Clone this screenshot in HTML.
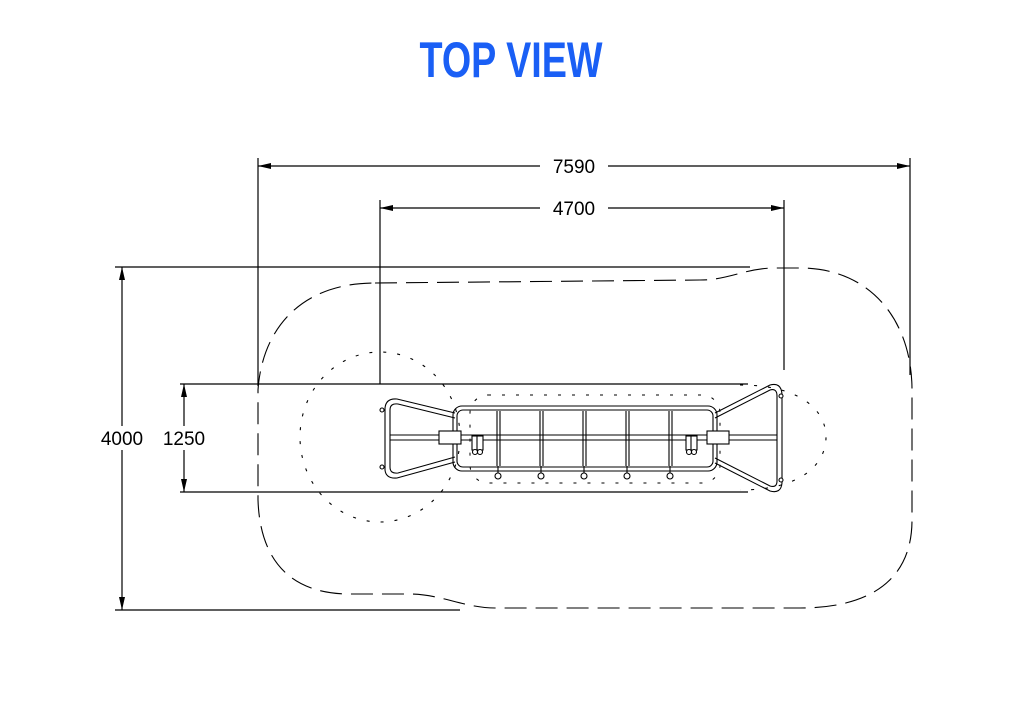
<!DOCTYPE html>
<html><head><meta charset="utf-8"><style>
html,body{margin:0;padding:0;background:#fff;}
svg{display:block;}
</style></head><body>
<svg width="1024" height="722" viewBox="0 0 1024 722" xmlns="http://www.w3.org/2000/svg">
<text x="511" y="77" text-anchor="middle" font-family="Liberation Sans Narrow, Liberation Sans, sans-serif" font-weight="bold" font-size="50" fill="#1a5ff5" textLength="183" lengthAdjust="spacingAndGlyphs">TOP VIEW</text>

<g stroke="#000" stroke-width="1.2" fill="none">
  <line x1="258" y1="158" x2="258" y2="386"/>
  <line x1="910" y1="158" x2="910" y2="375"/>
  <line x1="380" y1="200" x2="380" y2="384"/>
  <line x1="784" y1="200" x2="784" y2="370"/>
  <line x1="115" y1="267" x2="750" y2="267"/>
  <line x1="180" y1="384" x2="748" y2="384"/>
  <line x1="180" y1="492" x2="748" y2="492"/>
  <line x1="115" y1="610" x2="460" y2="610"/>
  <line x1="258" y1="166" x2="540" y2="166"/>
  <line x1="608" y1="166" x2="910" y2="166"/>
  <line x1="380" y1="208" x2="540" y2="208"/>
  <line x1="608" y1="208" x2="784" y2="208"/>
  <line x1="122" y1="267" x2="122" y2="610"/>
  <line x1="184" y1="384" x2="184" y2="492"/>
</g>
<g fill="#000">
  <polygon points="258,166 271,163 271,169"/>
  <polygon points="910,166 897,163 897,169"/>
  <polygon points="380,208 393,205 393,211"/>
  <polygon points="784,208 771,205 771,211"/>
  <polygon points="122,267 119,280 125,280"/>
  <polygon points="122,610 119,597 125,597"/>
  <polygon points="184,384 181,397 187,397"/>
  <polygon points="184,492 181,479 187,479"/>
</g>
<rect x="98" y="426" width="110" height="24" fill="#fff"/>
<g font-family="Liberation Sans, sans-serif" font-size="19" fill="#000">
  <text x="574" y="173" text-anchor="middle">7590</text>
  <text x="574" y="215" text-anchor="middle">4700</text>
  <text x="122" y="445" text-anchor="middle">4000</text>
  <text x="184" y="445" text-anchor="middle">1250</text>
</g>

<path d="M375,283 L700,280 C730,280 745,268 775,268 L800,268 C870,268 912,320 912,390 L912,520 C912,580 870,608 800,608 L495,608 C465,608 440,594 410,594 L350,594 C290,594 260,560 258,500 L258,390 C262,330 300,283 375,283 Z" stroke="#000" stroke-width="1.1" fill="none" stroke-dasharray="22,9"/>
<ellipse cx="380" cy="437" rx="80" ry="85" stroke="#000" stroke-width="1.1" fill="none" stroke-dasharray="3,11"/>
<path d="M740,385 C800,385 826,410 826,437 C826,465 800,490 740,490" stroke="#000" stroke-width="1.1" fill="none" stroke-dasharray="3,11"/>
<rect x="470" y="395" width="250" height="88" rx="18" stroke="#000" stroke-width="1" fill="none" stroke-dasharray="3,11"/>

<g stroke="#000" stroke-width="1.1" fill="none">
  <rect x="453" y="406" width="264" height="65" rx="9"/>
  <rect x="457" y="410" width="256" height="57" rx="6"/>
  <path d="M455,413 L397,399 Q386,398 385,408 L385,470 Q386,479 397,478 L455,462"/>
  <path d="M455,418 L398,404 Q390,403 390,410 L390,467 Q390,474 398,473 L455,457"/>
  <path d="M715,413 L770,385 Q781,382 782,394 L782,483 Q781,494 770,491 L715,463"/>
  <path d="M715,418 L770,390 Q777,388 777,396 L777,481 Q777,488 770,486 L715,458"/>
  <line x1="390" y1="435" x2="777" y2="435"/>
  <line x1="390" y1="440" x2="777" y2="440"/>
  <rect x="439" y="431" width="22" height="13" fill="#fff"/>
  <rect x="707" y="431" width="22" height="13" fill="#fff"/>
  <g>
    <line x1="497" y1="411" x2="497" y2="466"/><line x1="500" y1="411" x2="500" y2="466"/>
    <line x1="540" y1="411" x2="540" y2="466"/><line x1="543" y1="411" x2="543" y2="466"/>
    <line x1="583" y1="411" x2="583" y2="466"/><line x1="586" y1="411" x2="586" y2="466"/>
    <line x1="626" y1="411" x2="626" y2="466"/><line x1="629" y1="411" x2="629" y2="466"/>
    <line x1="669" y1="411" x2="669" y2="466"/><line x1="672" y1="411" x2="672" y2="466"/>
  </g>
  <g fill="#fff">
    <line x1="498" y1="466" x2="498" y2="473"/><circle cx="498" cy="476" r="3"/>
    <line x1="541" y1="466" x2="541" y2="473"/><circle cx="541" cy="476" r="3"/>
    <line x1="584" y1="466" x2="584" y2="473"/><circle cx="584" cy="476" r="3"/>
    <line x1="627" y1="466" x2="627" y2="473"/><circle cx="627" cy="476" r="3"/>
    <line x1="670" y1="466" x2="670" y2="473"/><circle cx="670" cy="476" r="3"/>
    <rect x="472" y="436" width="6" height="14"/><rect x="477" y="436" width="6" height="14"/>
    <circle cx="475" cy="452" r="2.5"/><circle cx="480" cy="452" r="2.5"/>
    <rect x="686" y="436" width="6" height="14"/><rect x="691" y="436" width="6" height="14"/>
    <circle cx="689" cy="452" r="2.5"/><circle cx="694" cy="452" r="2.5"/>
    <circle cx="382" cy="410" r="2"/><circle cx="382" cy="467" r="2"/>
    <circle cx="781" cy="396" r="2"/><circle cx="781" cy="480" r="2"/>
  </g>
</g>
</svg>
</body></html>
